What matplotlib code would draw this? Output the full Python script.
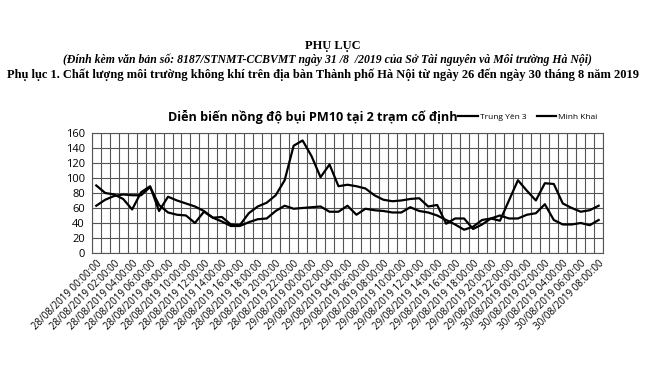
import matplotlib.pyplot as plt
import numpy as np
import pandas as pd

# hourly timestamps 28/08 00:00 -> 30/08 08:00
times = pd.date_range('2019-08-28 00:00', '2019-08-30 08:00', freq='h')
labels = list(times.strftime('%d/%m/%Y %H:%M:%S'))

trung_yen = [63, 71, 76, 78, 77, 77, 88, 64, 54, 51, 50, 40, 55, 47, 48, 38, 37, 53, 62, 67,
             77, 97, 143, 150, 129, 101, 118, 89, 91, 89, 86, 77, 71, 69, 70, 72, 73, 62, 64, 39,
             46, 46, 32, 38, 46, 43, 70, 97, 83, 70, 93, 92, 66, 60, 55, 57, 63]
minh_khai = [90, 80, 78, 72, 58, 81, 89, 56, 75, 70, 66, 62, 56, 47, 42, 36, 36, 41, 45, 46,
             56, 63, 59, 60, 61, 62, 55, 55, 63, 51, 59, 57, 56, 54, 54, 61, 56, 54, 50, 44,
             38, 31, 35, 44, 46, 50, 46, 46, 51, 53, 65, 44, 38, 38, 40, 37, 44]

serif = 'Liberation Serif'
sans = ['Open Sans', 'DejaVu Sans']

fig = plt.figure(figsize=(6.65, 3.86), dpi=100)

# document header
fig.text(0.5, 0.881, 'PHỤ LỤC', family=serif, weight='bold', fontsize=9, ha='center', va='center')
fig.text(0.492, 0.845, '(Đính kèm văn bản số: 8187/STNMT-CCBVMT ngày 31 /8  /2019 của Sở Tài nguyên và Môi trường Hà Nội)',
         family=serif, style='italic', weight='bold', fontsize=8.5, ha='center', va='center')
fig.text(0.485, 0.806, 'Phụ lục 1. Chất lượng môi trường không khí trên địa bàn Thành phố Hà Nội từ ngày 26 đến ngày 30 tháng 8 năm 2019',
         family=serif, weight='bold', fontsize=9, ha='center', va='center')

ax = fig.add_axes([0.138, 0.3446, 0.769, 0.3109])
x = np.arange(len(labels))
ax.plot(x, trung_yen, color='black', lw=1.6, label='Trung Yên 3')
ax.plot(x, minh_khai, color='black', lw=1.6, label='Minh Khai')

ax.set_xlim(-0.5, len(x) - 0.5)
ax.set_ylim(0, 160)
ax.set_yticks(range(0, 161, 20))
ax.set_xticks(x[::2])
ax.set_xticklabels(labels[::2], rotation=45, ha='right', rotation_mode='anchor',
                   fontsize=7, family=sans)
ax.set_xticks(np.arange(-0.5, len(x)), minor=True)
for t in ax.get_yticklabels():
    t.set_family(sans)
    t.set_fontsize(8)
ax.tick_params(axis='both', which='both', length=0)
ax.tick_params(axis='x', pad=4)
ax.tick_params(axis='y', pad=5)
ax.grid(which='minor', axis='x', color='#555555', lw=0.8)
ax.grid(which='major', axis='y', color='#555555', lw=0.8)
ax.set_axisbelow(True)
for s in ax.spines.values():
    s.set_color('#555555')
    s.set_linewidth(0.8)

fig.text(0.253, 0.697, 'Diễn biến nồng độ bụi PM10 tại 2 trạm cố định', family=sans,
         weight='bold', fontsize=9.1, va='center')
fig.legend(loc='center left', bbox_to_anchor=(0.678, 0.697), ncol=2, frameon=False,
           prop={'family': sans, 'size': 6}, handlelength=2.3, columnspacing=1.2,
           handletextpad=0.3)

fig.savefig('out.png', dpi=100, facecolor='white')
